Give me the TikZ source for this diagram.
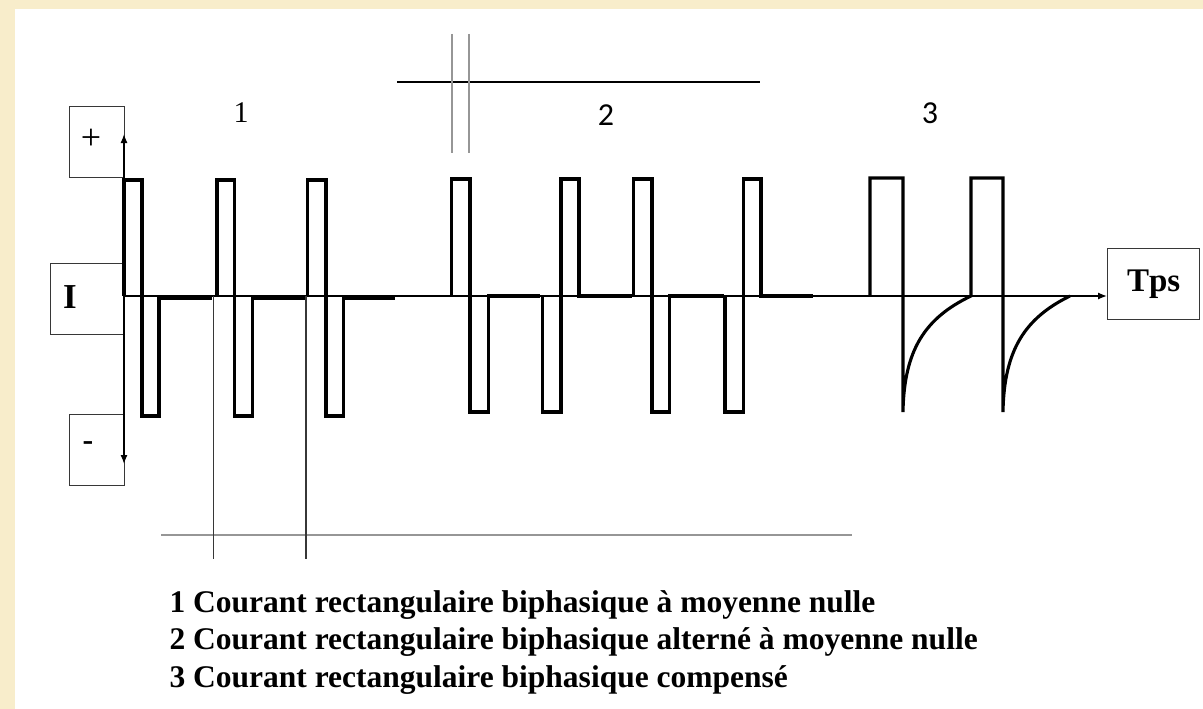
\documentclass[tikz,border=0pt]{standalone}
\usepackage{fontspec}
\setmainfont{Liberation Serif}
\newfontfamily\calib{Carlito}
\usetikzlibrary{arrows.meta}
\definecolor{parch}{RGB}{248,237,203}
\definecolor{guidegray}{RGB}{150,150,150}
\definecolor{boxgray}{RGB}{55,55,55}
\begin{document}
\begin{tikzpicture}[x=1pt,y=-1pt,
  pulseline/.style={line width=3.1pt, line join=miter, black},
  axisline/.style={line width=1.3pt, black},
  boxnode/.style={draw=boxgray, line width=1.2pt, rectangle, inner sep=0pt},
  graybar/.style={line width=2pt, guidegray},
  thinguide/.style={line width=1.2pt, boxgray},
  tiptip/.style={-{Latex[length=9pt,width=7pt]}},
  numlab/.style={font=\fontsize{30}{30}\selectfont},
  legend/.style={anchor=base west, font=\fontsize{31.5}{31.5}\selectfont\bfseries}]
% background
\fill[parch] (0,0) rectangle (1203,709);
\fill[white] (15,9) rectangle (1203,709);
\useasboundingbox (0,0) rectangle (1203,709);

% boxes
\node[boxnode, minimum width=55pt, minimum height=71pt, anchor=north west] (plusbox) at (69,106) {};
\node[font=\fontsize{36}{36}\selectfont] (plus) at (91,139) {+};
\node[boxnode, minimum width=73pt, minimum height=71pt, anchor=north west] (ibox) at (50,263) {};
\node[font=\fontsize{35}{35}\selectfont\bfseries] (ilab) at (70,297) {I};
\node[boxnode, minimum width=55pt, minimum height=71pt, anchor=north west] (minusbox) at (69,414) {};
\node[font=\fontsize{32}{32}\selectfont\bfseries] (minus) at (88,446) {-};
\node[boxnode, minimum width=92pt, minimum height=71pt, anchor=north west,
      font=\fontsize{33}{33}\selectfont\bfseries] (tps) at (1107,248) {Tps};

% axes
\coordinate (origin) at (124,296);
\coordinate (ytop) at (124,134);
\coordinate (ybot) at (124,464);
\draw[axisline, tiptip] (origin) -- (ytop);
\draw[axisline, tiptip] (origin) -- (ybot);
\draw[axisline, tiptip] (origin) -- (tps.west |- origin);

% top markers
\coordinate (tl) at (397,82);
\coordinate (tr) at (760,82);
\draw[line width=1.6pt, black] (tl) -- (tr);
\draw[line width=1.7pt, guidegray] (452,34) -- (452,153);
\draw[line width=1.7pt, guidegray] (469,34) -- (469,153);

% bottom markers
\draw[graybar] (161,535) -- (852,535);
\draw[thinguide] (213.5,296) -- (213.5,559);
\draw[thinguide] (306,296) -- (306,559);

% series 1
\draw[pulseline] (124,296) -- (124,180) -- (142,180) -- (142,416) -- (159,416) -- (159,298) -- (212,298);
\draw[pulseline] (217,296) -- (217,180) -- (234.5,180) -- (234.5,416) -- (252.5,416) -- (252.5,298) -- (305,298);
\draw[pulseline] (307.5,296) -- (307.5,180) -- (326,180) -- (326,416) -- (343.5,416) -- (343.5,298) -- (395,298);

% series 2
\draw[pulseline] (451.5,296) -- (451.5,179) -- (470,179) -- (470,412) -- (488.5,412) -- (488.5,296) -- (540,296);
\draw[pulseline] (542.5,296) -- (542.5,412) -- (561,412) -- (561,179) -- (579,179) -- (579,296) -- (632,296);
\draw[pulseline] (633.5,296) -- (633.5,179) -- (652,179) -- (652,412) -- (669.5,412) -- (669.5,296) -- (723.5,296);
\draw[pulseline] (725,296) -- (725,412) -- (743.5,412) -- (743.5,179) -- (761,179) -- (761,296) -- (813,296);

% series 3
\draw[pulseline] (870,296) -- (870,178) -- (903,178) -- (903,412)
   .. controls (904,350) and (925,318) .. (971,296) -- (971,178) -- (1003,178) -- (1003,412)
   .. controls (1004,350) and (1025,318) .. (1070,296);

% numbers
\node[numlab] (n1) at (241,113) {1};
\node[numlab, font=\fontsize{32}{32}\selectfont\calib] (n2) at (606,115) {2};
\node[numlab, font=\fontsize{32}{32}\selectfont\calib] (n3) at (930,113) {3};

% legend
\node[legend] (l1) at (166,612) {1 Courant rectangulaire biphasique à moyenne nulle};
\node[legend] (l2) at (166,649) {2 Courant rectangulaire biphasique alterné à moyenne nulle};
\node[legend] (l3) at (166,687) {3 Courant rectangulaire biphasique compensé};
\end{tikzpicture}
\end{document}
